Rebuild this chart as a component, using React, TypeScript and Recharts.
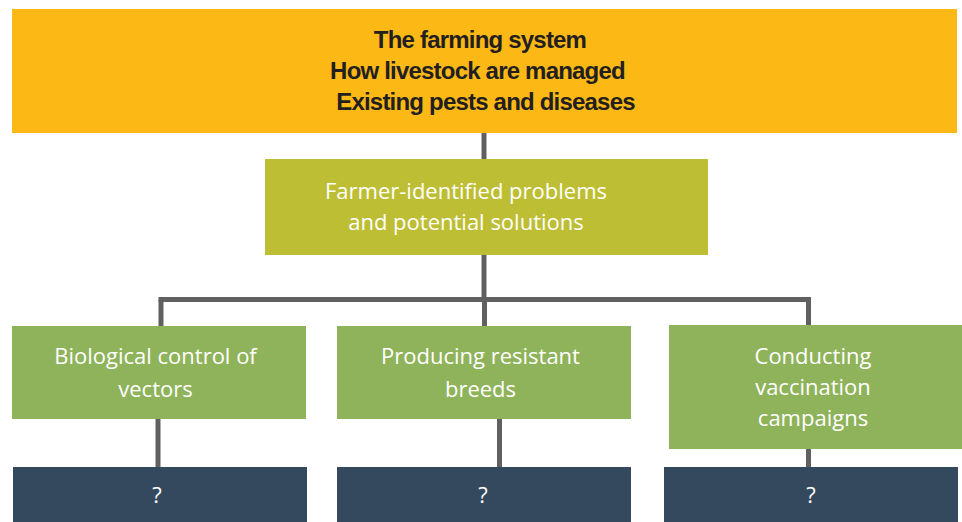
import React from 'react';
import { ComposedChart, XAxis, YAxis, ReferenceArea, ReferenceLine } from 'recharts';

// ---- content (text of the diagram) ----
const CONTEXT_LINES = ['The farming system', 'How livestock are managed', 'Existing pests and diseases'];
const PROBLEM_LINES = ['Farmer-identified problems', 'and potential solutions'];
const SOLUTION_LABELS = [
  ['Biological control of', 'vectors'],
  ['Producing resistant', 'breeds'],
  ['Conducting', 'vaccination', 'campaigns'],
];
const OUTCOME_LABELS = ['?', '?', '?'];

// ---- layout (diagram geometry, in pixel-like domain units) ----
const W = 962;
const H = 522;
const CONTEXT_BOX = { x1: 12, x2: 957, y1: 9, y2: 133, lh: 31, dy: -0.5 };
const CONTEXT_DX = [-4.5, -7, 1];
const PROBLEM_BOX = { x1: 265, x2: 708, y1: 159, y2: 255, dx: -20.5, lh: 31, dy: -2 };
const SOLUTION_BOXES = [
  { x1: 12, x2: 306, y1: 326, y2: 419, dx: -3.5, lh: 33, dy: -1 },
  { x1: 337, x2: 631, y1: 326, y2: 419, dx: -3.5, lh: 33, dy: -1 },
  { x1: 669, x2: 962, y1: 325, y2: 449, dx: -2.5, lh: 31, dy: -1 },
];
const OUTCOME_BOXES = [
  { x1: 13, x2: 307, y1: 467, y2: 522, dx: -3, lh: 30, dy: -1 },
  { x1: 337, x2: 631, y1: 467, y2: 522, dx: -1, lh: 30, dy: -1 },
  { x1: 664, x2: 958, y1: 467, y2: 522, dx: 0, lh: 30, dy: -1 },
];
const CONNECTORS = [
  [{ x: 484, y: 133 }, { x: 484, y: 159 }],
  [{ x: 484, y: 255 }, { x: 484, y: 300 }],
  [{ x: 158.5, y: 299.5 }, { x: 811, y: 299.5 }],
  [{ x: 161, y: 300 }, { x: 161, y: 326 }],
  [{ x: 484.5, y: 300 }, { x: 484.5, y: 326 }],
  [{ x: 808.5, y: 297 }, { x: 808.5, y: 325 }],
  [{ x: 158, y: 419 }, { x: 158, y: 467 }],
  [{ x: 499.5, y: 419 }, { x: 499.5, y: 467 }],
  [{ x: 808.5, y: 449 }, { x: 808.5, y: 467 }],
];

// ---- styles ----
const COLORS = {
  context: '#FCB815',
  problem: '#BDBE33',
  solution: '#8FB35A',
  outcome: '#34495E',
  line: '#606060',
};

const BODY_FONT = '"Open Sans", "Noto Sans", sans-serif';
const BODY_SIZE = 22;

function makeLabel(
  lines: string[],
  lh: number,
  dx: number | number[],
  dy: number,
  style: { fill: string; fontSize: number; fontFamily: string; fontWeight?: string | number; letterSpacing?: number }
) {
  return (props: any) => {
    const vb = props.viewBox || {};
    const cx = (vb.x || 0) + (vb.width || 0) / 2;
    const cy = (vb.y || 0) + (vb.height || 0) / 2 + dy;
    const n = lines.length;
    return (
      <g>
        {lines.map((line, i) => {
          const off = Array.isArray(dx) ? dx[i] : dx;
          return (
            <text
              key={i}
              x={cx + off}
              y={cy + (i - (n - 1) / 2) * lh}
              textAnchor="middle"
              dominantBaseline="central"
              fill={style.fill}
              fontSize={style.fontSize}
              fontFamily={style.fontFamily}
              fontWeight={style.fontWeight}
              letterSpacing={style.letterSpacing}
            >
              {line}
            </text>
          );
        })}
      </g>
    );
  };
}

const frame = [{ x: 0, y: 0 }, { x: W, y: H }];

export default function App() {
  return (
    <div style={{ position: 'absolute', left: 0, top: 0, width: W, height: H, background: '#fff' }}>
      <ComposedChart width={W} height={H} data={frame} margin={{ top: 0, right: 0, bottom: 0, left: 0 }}>
        <XAxis type="number" dataKey="x" domain={[0, W]} hide allowDataOverflow />
        <YAxis type="number" dataKey="y" domain={[0, H]} reversed hide allowDataOverflow />

        {CONNECTORS.map((seg, i) => (
          <ReferenceLine
            key={`c${i}`}
            segment={seg}
            stroke={COLORS.line}
            strokeWidth={5}
            ifOverflow="visible"
          />
        ))}

        <ReferenceArea
          x1={CONTEXT_BOX.x1}
          x2={CONTEXT_BOX.x2}
          y1={CONTEXT_BOX.y1}
          y2={CONTEXT_BOX.y2}
          fill={COLORS.context}
          fillOpacity={1}
          stroke="none"
          ifOverflow="visible"
          label={makeLabel(CONTEXT_LINES, CONTEXT_BOX.lh, CONTEXT_DX, CONTEXT_BOX.dy, {
            fill: '#231F20',
            fontSize: 24,
            fontFamily: '"Liberation Sans", Arial, sans-serif',
            fontWeight: 'bold',
            letterSpacing: -0.8,
          })}
        />

        <ReferenceArea
          x1={PROBLEM_BOX.x1}
          x2={PROBLEM_BOX.x2}
          y1={PROBLEM_BOX.y1}
          y2={PROBLEM_BOX.y2}
          fill={COLORS.problem}
          fillOpacity={1}
          stroke="none"
          ifOverflow="visible"
          label={makeLabel(PROBLEM_LINES, PROBLEM_BOX.lh, PROBLEM_BOX.dx, PROBLEM_BOX.dy, {
            fill: '#ffffff',
            fontSize: BODY_SIZE,
            fontFamily: BODY_FONT,
          })}
        />

        {SOLUTION_BOXES.map((b, i) => (
          <ReferenceArea
            key={`s${i}`}
            x1={b.x1}
            x2={b.x2}
            y1={b.y1}
            y2={b.y2}
            fill={COLORS.solution}
            fillOpacity={1}
            stroke="none"
            ifOverflow="visible"
            label={makeLabel(SOLUTION_LABELS[i], b.lh, b.dx, b.dy, {
              fill: '#ffffff',
              fontSize: BODY_SIZE,
              fontFamily: BODY_FONT,
            })}
          />
        ))}

        {OUTCOME_BOXES.map((b, i) => (
          <ReferenceArea
            key={`o${i}`}
            x1={b.x1}
            x2={b.x2}
            y1={b.y1}
            y2={b.y2}
            fill={COLORS.outcome}
            fillOpacity={1}
            stroke="none"
            ifOverflow="visible"
            label={makeLabel([OUTCOME_LABELS[i]], b.lh, b.dx, b.dy, {
              fill: '#ffffff',
              fontSize: BODY_SIZE,
              fontFamily: BODY_FONT,
            })}
          />
        ))}
      </ComposedChart>
    </div>
  );
}
